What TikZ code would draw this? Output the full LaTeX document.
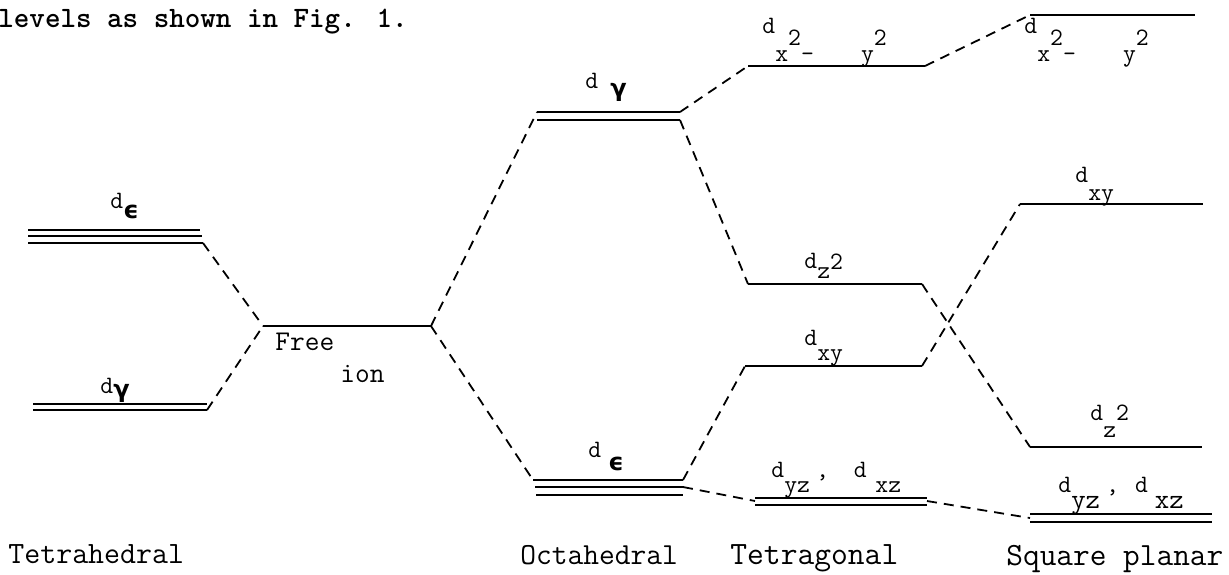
\documentclass[tikz,border=0pt]{standalone}
\usepackage{fontspec}
\usepackage{graphicx}
\newfontfamily\gkfont{DejaVu Sans}
\newcommand{\lo}[2]{\raisebox{-#1}{#2}}
\newcommand{\gr}[1]{{\gkfont\bfseries\fontsize{12}{12}\selectfont #1}}
\begin{document}
\begin{tikzpicture}[x=0.5pt,y=-0.5pt,
  level/.style={line width=1.25pt},
  conn/.style={line width=0.9pt, dash pattern=on 5pt off 3.5pt},
  lab/.style={anchor=base west, inner sep=0pt, font=\ttfamily\fontsize{12.5}{14}\selectfont},
  caption text/.style={anchor=base west, inner sep=0pt, font=\ttfamily\fontsize{15.5}{18}\selectfont}]
\useasboundingbox (0,0) rectangle (1229,574);
% ---------- coordinates of level ends ----------
% tetrahedral
\coordinate (teA1) at (28,230);  \coordinate (teB1) at (200,230);
\coordinate (teA2) at (28,236);  \coordinate (teB2) at (202,236);
\coordinate (teA3) at (28,243);  \coordinate (teB3) at (203,243);
\coordinate (tgA1) at (33,404);  \coordinate (tgB1) at (207,404);
\coordinate (tgA2) at (33,410);  \coordinate (tgB2) at (207,410);
% free ion
\coordinate (fiA) at (263,326);  \coordinate (fiB) at (431,326);
% octahedral
\coordinate (ogA1) at (537,112); \coordinate (ogB1) at (680,112);
\coordinate (ogA2) at (537,120); \coordinate (ogB2) at (680,120);
\coordinate (oeA1) at (533,480); \coordinate (oeB1) at (683,480);
\coordinate (oeA2) at (535,487); \coordinate (oeB2) at (683,487);
\coordinate (oeA3) at (536,495); \coordinate (oeB3) at (683,495);
% tetragonal
\coordinate (txA) at (748,66);   \coordinate (txB) at (925,66);
\coordinate (tzA) at (748,284);  \coordinate (tzB) at (922,284);
\coordinate (tyA) at (745,366);  \coordinate (tyB) at (922,366);
\coordinate (tdA1) at (755,498); \coordinate (tdB1) at (927,498);
\coordinate (tdA2) at (755,505); \coordinate (tdB2) at (927,505);
\coordinate (tdL) at (755,501);  \coordinate (tdR) at (927,501);
% square planar
\coordinate (sxA) at (1030,15);  \coordinate (sxB) at (1195,15);
\coordinate (syA) at (1020,204); \coordinate (syB) at (1203,204);
\coordinate (szA) at (1030,447); \coordinate (szB) at (1202,447);
\coordinate (sdA1) at (1030,514); \coordinate (sdB1) at (1212,514);
\coordinate (sdA2) at (1030,522); \coordinate (sdB2) at (1212,522);
\coordinate (sdL) at (1030,518);
% ---------- levels ----------
\draw[level] (teA1) -- (teB1);
\draw[level] (teA2) -- (teB2);
\draw[level] (teA3) -- (teB3);
\draw[level] (tgA1) -- (tgB1);
\draw[level] (tgA2) -- (tgB2);
\draw[level] (fiA) -- (fiB);
\draw[level] (ogA1) -- (ogB1);
\draw[level] (ogA2) -- (ogB2);
\draw[level] (oeA1) -- (oeB1);
\draw[level] (oeA2) -- (oeB2);
\draw[level] (oeA3) -- (oeB3);
\draw[level] (txA) -- (txB);
\draw[level] (tzA) -- (tzB);
\draw[level] (tyA) -- (tyB);
\draw[level] (tdA1) -- (tdB1);
\draw[level] (tdA2) -- (tdB2);
\draw[level] (sxA) -- (sxB);
\draw[level] (syA) -- (syB);
\draw[level] (szA) -- (szB);
\draw[level] (sdA1) -- (sdB1);
\draw[level] (sdA2) -- (sdB2);
% ---------- connectors ----------
\draw[conn] (teB3) -- (fiA);
\draw[conn] (tgB2) -- (fiA);
\draw[conn] (fiB) -- (ogA1);
\draw[conn] (fiB) -- (oeA1);
\draw[conn] (ogB1) -- (txA);
\draw[conn] (ogB2) -- (tzA);
\draw[conn] (oeB1) -- (tyA);
\draw[conn] (oeB2) -- (tdL);
\draw[conn] (txB) -- (sxA);
\draw[conn] (tzB) -- (szA);
\draw[conn] (tyB) -- (syA);
\draw[conn] (tdR) -- (sdL);
% ---------- texts ----------
\node[anchor=base west, inner sep=0pt, font=\ttfamily\bfseries\fontsize{14.8}{17}\selectfont] (hdr) at (-2,27) {levels as shown in Fig. 1.};
\node[lab] (lte) at (110,208) {d\lo{5pt}{\gr{ϵ}}};
\node[lab] (ltg) at (100,393) {d\lo{2pt}{\gr{γ}}};
\node[lab] (log) at (585,88) {d\hspace{6pt}\lo{4pt}{\gr{γ}}};
\node[lab] (loe) at (588,457) {d\hspace{3.5pt}\lo{6.5pt}{\gr{ϵ}}};
\node[lab] (ltx) at (762,33) {d\lo{14pt}{x\raisebox{8pt}{2}-\hspace{23.6pt}y\raisebox{8pt}{2}}};
\node[lab] (lsx) at (1024,33) {d\lo{14pt}{x\raisebox{8pt}{2}-\hspace{23.6pt}y\raisebox{8pt}{2}}};
\node[lab] (ltz) at (804,268) {d\lo{5pt}{z\raisebox{4.5pt}{2}}};
\node[lab] (lty) at (804,345) {d\lo{7.5pt}{xy}};
\node[lab] (lsy) at (1075,182) {d\lo{9pt}{xy}};
\node[lab] (lsz) at (1090,420) {d\lo{8.5pt}{z\raisebox{8.5pt}{2}}};
\node[lab] (ltd) at (771,477) {d\lo{7.5pt}{yz}\hspace{3pt},\ \hspace{6pt}d\hspace{4.4pt}\lo{7.5pt}{xz}};
\node[lab] (lsd) at (1058,492) {d\lo{8pt}{\fontsize{14}{14}\selectfont yz}\hspace{3pt},\hspace{8pt}d\hspace{3.5pt}\lo{8pt}{\fontsize{14}{14}\selectfont xz}};
\node[anchor=base west, inner sep=0pt, font=\ttfamily\fontsize{14.3}{16}\selectfont] (free) at (275,350) {Free};
\node[anchor=base west, inner sep=0pt, font=\ttfamily\fontsize{14.3}{16}\selectfont] (ion) at (340,382) {ion};
\node[caption text] (tet) at (8,563) {Tetrahedral};
\node[caption text, font=\ttfamily\fontsize{15.3}{18}\selectfont] (oct) at (520,564) {Octahedral};
\node[caption text, font=\ttfamily\fontsize{16.3}{18}\selectfont] (tgn) at (730,564) {Tetragonal};
\node[caption text, font=\ttfamily\fontsize{16.2}{18}\selectfont] (sqp) at (1006,565) {Square planar};
\end{tikzpicture}
\end{document}
